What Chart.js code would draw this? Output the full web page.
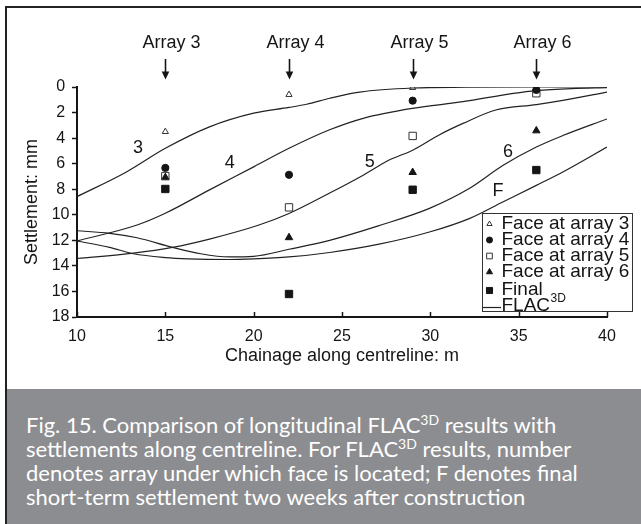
<!DOCTYPE html>
<html><head><meta charset="utf-8">
<script src="https://cdn.jsdelivr.net/npm/chart.js@4.4.0/dist/chart.umd.min.js"></script>
<style>
html,body{margin:0;padding:0;background:#fff;}
#wrap{position:relative;width:641px;height:524px;overflow:hidden;background:#fff;}
#chartBox{position:absolute;left:0;top:0;width:641px;height:389px;}
#frame{position:absolute;left:5px;top:6px;width:700px;height:600px;border-left:2px solid #222;border-top:2px solid #222;pointer-events:none;}
#caption{position:absolute;left:7px;top:389px;width:634px;height:135px;background:#8c8d90;color:#fff;font-family:Lato,"Open Sans",sans-serif;font-size:22px;line-height:24px;box-sizing:border-box;padding:24px 0 0 19px;white-space:nowrap;}
#caption sup{font-size:14px;line-height:0;vertical-align:baseline;position:relative;top:-8px;}
</style></head>
<body>
<div id="wrap">
  <div id="chartBox"><canvas id="c"></canvas></div>
  <div id="caption">Fig. 15. Comparison of longitudinal FLAC<sup>3D</sup> results with<br>settlements along centreline. For FLAC<sup>3D</sup> results, number<br>denotes array under which face is located; F denotes final<br>short-term settlement two weeks after construction</div>
  <div id="frame"></div>
</div>
<script>
// ---- data ----
const measureX = [15, 22, 29, 36];
const face3 = [3.5, 0.6, 0.05];
const face4 = [6.33, 6.87, 1.07, 0.23];
const face5 = [6.97, 9.42, 3.83, 0.49];
const face6 = [7.08, 11.78, 6.68, 3.42];
const finalS = [7.98, 16.2, 8.04, 6.5];

const flac3X = [10, 12.8, 15, 17.5, 20, 22, 23, 24.3, 26, 29, 32, 36, 40];
const flac3Y = [8.58, 6.65, 4.8, 3.12, 2.05, 1.6, 1.35, 0.88, 0.4, 0.08, 0.02, 0, 0];
const flac4X = [10, 13.4, 15, 17.5, 20, 22, 24.3, 26.2, 29, 31.85, 34.7, 36, 38, 40];
const flac4Y = [12.05, 10.8, 9.88, 8.05, 6.25, 4.8, 3.35, 2.45, 1.67, 1.15, 0.5, 0.28, 0.12, 0.05];
const flac5X = [10, 13.2, 15.4, 17.5, 20.3, 22, 24.3, 26.2, 27.7, 29, 30.5, 31.85, 33.7, 36, 37.5, 40];
const flac5Y = [13.42, 13.0, 12.55, 11.9, 10.8, 9.9, 8.3, 6.9, 5.7, 4.95, 3.75, 2.85, 1.8, 1.38, 1.05, 0.4];
const flac6X = [10, 11.85, 13.4, 15.4, 17, 18.6, 20, 22, 24.3, 27.1, 29.95, 32.2, 34.1, 36, 37.5, 40];
const flac6Y = [11.25, 11.45, 11.8, 12.55, 13.05, 13.3, 13.25, 12.7, 12.0, 10.85, 9.5, 7.95, 6.15, 4.7, 3.8, 2.5];
const flacFX = [10, 11.85, 13.2, 15, 16.3, 18.6, 20, 22, 24.3, 27.1, 29.95, 32.2, 34.1, 36, 37.5, 40];
const flacFY = [12.05, 12.55, 13.05, 13.35, 13.45, 13.5, 13.45, 13.3, 12.95, 12.3, 11.35, 10.3, 9.0, 7.7, 6.65, 4.7];

const arrayLabels = ['Array 3', 'Array 4', 'Array 5', 'Array 6'];
const curveLabelText = ['3', '4', '5', '6', 'F'];
const curveLabelX = [13.45, 18.64, 26.57, 34.39, 33.83];
const curveLabelY = [4.8, 5.97, 5.85, 5.06, 8.14];
const legendLabels = ['Face at array 3', 'Face at array 4', 'Face at array 5', 'Face at array 6', 'Final', 'FLAC'];
const xTicks = [10, 15, 20, 25, 30, 35, 40];
const yTicks = [0, 2, 4, 6, 8, 10, 12, 14, 16, 18];

const pts = (xs, ys) => ys.map((v, i) => ({x: xs[i], y: v}));
const INK = '#151515';
const FONT = '"Liberation Sans", Arial, sans-serif';

function marker(label, data, style, radius, filled) {
  return {
    label, data, showLine: false, order: 0,
    pointStyle: style, pointRadius: radius, pointHoverRadius: radius,
    pointBackgroundColor: filled ? INK : 'rgba(255,255,255,0)',
    pointBorderColor: filled ? INK : '#333',
    pointBorderWidth: 1
  };
}
function curve(data) {
  return {
    label: 'FLAC3D', data, showLine: true, order: 5,
    borderColor: '#222', borderWidth: 1.2, pointRadius: 0, pointHoverRadius: 0,
    cubicInterpolationMode: 'monotone', fill: false
  };
}

const datasets = [
  marker(legendLabels[0], pts(measureX, face3), 'triangle', 3.6, false),
  marker(legendLabels[1], pts(measureX, face4), 'circle', 3.6, true),
  marker(legendLabels[2], pts(measureX, face5), 'rect', 5.2, false),
  marker(legendLabels[3], pts(measureX, face6), 'triangle', 4.3, true),
  marker(legendLabels[4], pts(measureX, finalS), 'rect', 5.2, true),
  curve(pts(flac3X, flac3Y)),
  curve(pts(flac4X, flac4Y)),
  curve(pts(flac5X, flac5Y)),
  curve(pts(flac6X, flac6Y)),
  curve(pts(flacFX, flacFY))
];

function drawMark(ctx, style, r, x, y, filled) {
  ctx.fillStyle = filled ? INK : '#fff';
  ctx.strokeStyle = filled ? INK : '#333';
  ctx.lineWidth = 1;
  if (Chart.helpers && Chart.helpers.drawPoint) {
    Chart.helpers.drawPoint(ctx, {pointStyle: style, radius: r, rotation: 0, borderWidth: 1}, x, y);
  }
}

const overlay = {
  id: 'overlay',
  afterDraw(chart) {
    const {ctx, chartArea} = chart;
    const xs = chart.scales.x, ys = chart.scales.y;
    ctx.save();
    // inward x ticks
    ctx.strokeStyle = INK; ctx.lineWidth = 1.5;
    xTicks.forEach(v => {
      const px = Math.round(xs.getPixelForValue(v)) + 0.5;
      ctx.beginPath(); ctx.moveTo(px, chartArea.bottom); ctx.lineTo(px, chartArea.bottom - 5); ctx.stroke();
    });
    // Array labels + arrows
    ctx.font = '18px ' + FONT; ctx.fillStyle = INK;
    ctx.textAlign = 'center'; ctx.textBaseline = 'middle';
    measureX.forEach((v, i) => {
      const px = Math.round(xs.getPixelForValue(v)) + 0.5;
      ctx.fillText(arrayLabels[i], px + 6, 43);
      ctx.lineWidth = 1.6;
      ctx.beginPath(); ctx.moveTo(px, 59); ctx.lineTo(px, 73); ctx.stroke();
      ctx.beginPath(); ctx.moveTo(px - 3.8, 71.5); ctx.lineTo(px + 3.8, 71.5); ctx.lineTo(px, 79.5); ctx.closePath(); ctx.fill();
    });
    // curve labels
    curveLabelText.forEach((t, i) => {
      ctx.fillText(t, xs.getPixelForValue(curveLabelX[i]), ys.getPixelForValue(curveLabelY[i]));
    });
    // legend
    const L = 482.5, T = 213.5, W = 150, H = 98;
    ctx.fillStyle = '#fff'; ctx.fillRect(L, T, W, H);
    ctx.strokeStyle = '#333'; ctx.lineWidth = 1; ctx.strokeRect(L, T, W, H);
    const styles = [['triangle', 3, false], ['circle', 3, true], ['rect', 4, false], ['triangle', 3.5, true], ['rect', 4.3, true]];
    const base = [228.5, 244.5, 260.5, 276.5, 295];
    ctx.textAlign = 'left'; ctx.textBaseline = 'alphabetic';
    for (let i = 0; i < 5; i++) {
      drawMark(ctx, styles[i][0], styles[i][1], 489.5, base[i] - 4.5, styles[i][2]);
      ctx.fillStyle = INK; ctx.font = '19px ' + FONT;
      ctx.fillText(legendLabels[i], 501.5, base[i]);
    }
    ctx.strokeStyle = '#222'; ctx.lineWidth = 1.2;
    ctx.beginPath(); ctx.moveTo(483, 307.5); ctx.lineTo(501, 307.5); ctx.stroke();
    ctx.fillStyle = INK; ctx.font = '19px ' + FONT;
    ctx.fillText(legendLabels[5], 501.5, 310.5);
    const w = ctx.measureText(legendLabels[5]).width;
    ctx.font = '12px ' + FONT;
    ctx.fillText('3D', 501.5 + w + 0.5, 302);
    ctx.restore();
  }
};

new Chart(document.getElementById('c'), {
  type: 'scatter',
  data: {datasets},
  options: {
    responsive: true, maintainAspectRatio: false, animation: false,
    devicePixelRatio: 1,
    layout: {padding: {left: 0, top: 87, right: 34, bottom: 22}},
    plugins: {legend: {display: false}, tooltip: {enabled: false}},
    scales: {
      x: {
        type: 'linear', min: 10, max: 40,
        afterFit: s => { s.height = 50; },
        afterBuildTicks: s => { s.ticks = xTicks.map(v => ({value: v})); },
        ticks: {color: INK, padding: 10, font: {family: FONT, size: 16}},
        grid: {display: true, drawOnChartArea: false, drawTicks: false},
        border: {display: true, color: INK, width: 2},
        title: {display: true, text: 'Chainage along centreline: m', color: INK, font: {family: FONT, size: 18}, padding: {top: 0, bottom: 0}}
      },
      y: {
        type: 'linear', min: 0, max: 18, reverse: true,
        afterFit: s => { s.width = 77; },
        afterBuildTicks: s => { s.ticks = yTicks.map(v => ({value: v})); },
        ticks: {color: INK, padding: 2.5, crossAlign: 'center', font: {family: FONT, size: 16}},
        grid: {display: true, drawOnChartArea: false, drawTicks: true, tickLength: 5, tickWidth: 1.5, tickColor: INK},
        border: {display: true, color: INK, width: 2},
        title: {display: true, text: 'Settlement: mm', color: INK, font: {family: FONT, size: 18}, padding: {top: 21, bottom: 0}}
      }
    }
  },
  plugins: [overlay]
});
</script>
</body></html>
